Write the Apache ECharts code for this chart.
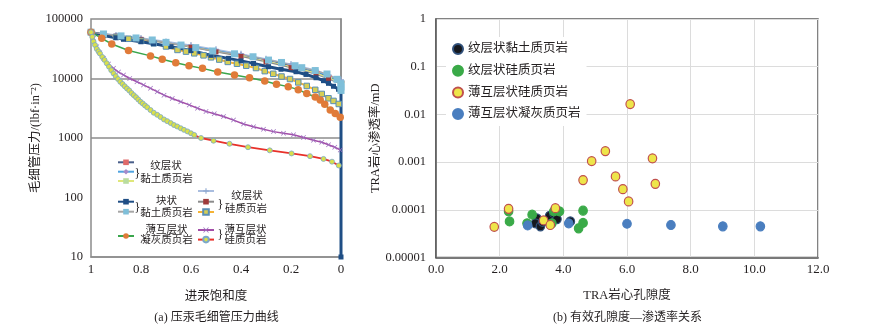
<!DOCTYPE html>
<html><head><meta charset="utf-8">
<script src="https://cdn.jsdelivr.net/npm/echarts@6/dist/echarts.min.js"></script>
<style>html,body{margin:0;padding:0;background:#fff}#c{width:890px;height:336px}</style>
</head><body><div id="c"></div>
<script>
// ---------- Panel (a): mercury injection capillary pressure curves [saturation, pressure] ----------
const wcClay1 = [[1,60000],[0.9,52500],[0.8,46500],[0.7,40500],[0.6,35000],[0.5,29500],[0.4,25000],[0.3,20500],[0.2,16500],[0.1,12800],[0.05,10800],[0,8800]];
const wcClay2 = [[1,60000],[0.9,53000],[0.8,47000],[0.7,41000],[0.6,35500],[0.5,30000],[0.4,25500],[0.3,21000],[0.2,17000],[0.1,13200],[0.05,11000],[0,9000]];
const wcClay3 = [[1,60000],[0.9,52000],[0.8,46000],[0.7,40000],[0.6,34000],[0.5,28500],[0.4,24000],[0.3,19500],[0.2,15800],[0.1,12300],[0.05,10300],[0,8500]];
const blkClay1 = [[1,60000],[0.95,53000],[0.9,48500],[0.87,45600],[0.8,41500],[0.75,38500],[0.68,34300],[0.6,29500],[0.52,24500],[0.45,21800],[0.4,19800],[0.35,17900],[0.29,15800],[0.24,14300],[0.18,13000],[0.14,11700],[0.1,10300],[0.07,9200],[0.05,8300],[0.03,7400],[0.01,6600],[0,6400],[0,10]];
const blkClay2 = [[1,60000],[0.95,56000],[0.88,52000],[0.82,48000],[0.755,44400],[0.7,40500],[0.64,36500],[0.581,33000],[0.513,29000],[0.426,26000],[0.352,23200],[0.29,20400],[0.238,18600],[0.184,16400],[0.157,15200],[0.103,13600],[0.056,11900],[0.016,9700],[0,8200],[0,7200],[0,6300]];
const wcSil1 = [[1,60000],[0.9,54000],[0.8,48000],[0.7,42000],[0.6,36500],[0.5,31000],[0.4,26000],[0.3,21500],[0.2,17500],[0.1,13800],[0.05,11500],[0,9500]];
const wcSil2 = [[1,60000],[0.9,51500],[0.8,45500],[0.7,39500],[0.6,33500],[0.5,28000],[0.4,23500],[0.3,19000],[0.2,15200],[0.1,11800],[0.05,9800],[0,8000]];
const wcSil3 = [[1,60000],[0.95,54000],[0.9,50000],[0.85,46500],[0.8,43000],[0.749,39000],[0.7,34500],[0.654,30200],[0.62,28300],[0.587,26500],[0.55,24500],[0.52,22700],[0.487,20800],[0.453,19000],[0.416,17700],[0.379,16400],[0.34,15000],[0.305,13300],[0.271,12000],[0.238,10800],[0.204,9800],[0.171,8600],[0.137,7500],[0.103,6450],[0.077,5500],[0.05,4650],[0.03,4200],[0.009,3730]];
const ilTuff = [[1,60000],[0.957,47400],[0.917,38000],[0.85,29500],[0.762,24000],[0.715,21000],[0.661,18400],[0.608,16400],[0.554,14800],[0.493,12900],[0.426,11500],[0.366,10300],[0.305,9100],[0.258,8000],[0.211,7300],[0.171,6500],[0.137,5600],[0.103,4900],[0.083,4350],[0.065,3700],[0.043,2950],[0.023,2580],[0.003,2230]];
const ilSil1 = [[1,60000],[0.99,47300],[0.977,34300],[0.965,27000],[0.95,21900],[0.93,17500],[0.91,14800],[0.89,12800],[0.87,11500],[0.845,10000],[0.816,8830],[0.79,7800],[0.762,6840],[0.735,6000],[0.708,5250],[0.675,4600],[0.641,4070],[0.607,3600],[0.574,3160],[0.54,2800],[0.507,2550],[0.47,2300],[0.43,2000],[0.39,1720],[0.35,1540],[0.31,1400],[0.27,1280],[0.23,1200],[0.19,1130],[0.15,1020],[0.11,920],[0.077,850],[0.05,770],[0.025,700],[0.003,630]];
const ilSil2 = [[1,60000],[0.995,50000],[0.99,42000],[0.984,36500],[0.977,31500],[0.97,28500],[0.964,26300],[0.955,23000],[0.946,20500],[0.937,18000],[0.928,15800],[0.919,13800],[0.91,12200],[0.901,10900],[0.892,9800],[0.883,8800],[0.874,8100],[0.865,7400],[0.856,6800],[0.847,6300],[0.838,5700],[0.829,5250],[0.82,4850],[0.811,4450],[0.802,4070],[0.793,3800],[0.784,3520],[0.775,3280],[0.762,2950],[0.749,2660],[0.735,2450],[0.722,2250],[0.708,2050],[0.695,1920],[0.681,1780],[0.668,1650],[0.655,1560],[0.641,1460],[0.628,1370],[0.614,1290],[0.6,1200],[0.587,1125],[0.56,1000],[0.51,900],[0.446,800],[0.372,700],[0.285,620],[0.198,550],[0.124,495],[0.07,445],[0.036,400],[0.009,345]];

const satTicks = {1:'1', 0.8:'0.8', 0.6:'0.6', 0.4:'0.4', 0.2:'0.2', 0:'0'};

// ---------- Panel (b): porosity (%) vs permeability (mD) ----------
const ptWcClay = [[3.17,6.6e-5],[3.12,5.2e-5],[3.28,4.5e-5],[3.35,5.6e-5],[3.57,7.5e-5],[3.70,8.5e-5],[3.80,6.4e-5],[4.22,5.7e-5]];
const ptWcSil = [[2.28,9.3e-5],[2.31,5.7e-5],[2.86,5.2e-5],[3.02,7.9e-5],[3.64,5.2e-5],[3.70,9.3e-5],[3.88,9.3e-5],[4.62,9.6e-5],[4.62,5.3e-5],[4.48,4.1e-5]];
const ptIlSil = [[1.83,4.4e-5],[2.28,1.05e-4],[3.38,6.0e-5],[3.59,4.8e-5],[3.75,1.08e-4],[4.62,4.2e-4],[4.89,1.05e-3],[5.32,1.7e-3],[5.64,5.0e-4],[5.87,2.7e-4],[6.05,1.5e-4],[6.10,1.65e-2],[6.80,1.2e-3],[6.89,3.5e-4]];
const ptIlTuff = [[2.88,4.7e-5],[4.17,5.2e-5],[6.00,5.1e-5],[7.38,4.8e-5],[9.01,4.5e-5],[10.19,4.5e-5]];
const permTicks = ['1','0.1','0.01','0.001','0.0001','0.00001'];

const SERIF = '"Liberation Serif","Times New Roman","Noto Sans CJK SC",serif';
const TXT = '#231f20';
const XSYM = 'path://M0,1 L1,0 L5,4 L9,0 L10,1 L6,5 L10,9 L9,10 L5,6 L1,10 L0,9 L4,5 Z';
const PSYM = 'path://M4,0 H6 V4 H10 V6 H6 V10 H4 V6 H0 V4 H4 Z';

function ln(name, data, color, width, symbol, size, itemStyle) {
  return {
    name, type:'line', xAxisIndex:0, yAxisIndex:0, data,
    lineStyle:{color, width}, symbol, symbolSize:size,
    itemStyle: Object.assign({color}, itemStyle||{}), showSymbol: symbol!=='none',
    animation:false, silent:true, clip:true
  };
}

const series = [
  ln('a纹层状黏土质页岩1', wcClay1, '#4a5f8a', 1.2, 'rect', [7,2], {color:'#e06a6a'}),
  ln('a纹层状黏土质页岩2', wcClay2, '#4fa3e0', 1.2, 'diamond', 5, {color:'#a58bc9'}),
  ln('a纹层状黏土质页岩3', wcClay3, '#dfe77a', 1.2, 'rect', [7,2], {color:'#b9dca0'}),
  ln('a纹层状硅质页岩1', wcSil1, '#a9bddf', 1.2, PSYM, 6, {color:'#8fa8d0'}),
  ln('a纹层状硅质页岩2', wcSil2, '#8c8c8c', 1.2, 'rect', 5, {color:'#9e3a3a'}),
  ln('a纹层状硅质页岩3', wcSil3, '#f5b335', 2, 'rect', 5.5, {color:'#d6cf55', borderColor:'#5a8fb5', borderWidth:1}),
  ln('a块状黏土质页岩1', blkClay1, '#1f4e85', 3, 'rect', 5, {color:'#1f4e85'}),
  ln('a块状黏土质页岩2', blkClay2, '#a6a6a6', 1.2, 'rect', 7, {color:'#7fbfd9'}),
  ln('a薄互层状凝灰质页岩', ilTuff, '#3aa64c', 1.5, 'circle', 7.5, {color:'#e07b39'}),
  ln('a薄互层状硅质页岩1', ilSil1, '#a34ea8', 1.5, XSYM, 5, {color:'#9b6fc0'}),
  ln('a薄互层状硅质页岩2', ilSil2, '#e8312a', 1.8, 'circle', 5, {color:'#d9e04a', borderColor:'#7ba8c9', borderWidth:0.8})
];

function sc(name, data, color, border) {
  return {name, type:'scatter', xAxisIndex:1, yAxisIndex:1, data, symbol:'circle', symbolSize:[8.5,9],
    itemStyle:{color, borderColor:border, borderWidth:1.2, opacity:1}, animation:false};
}
series.push(
  sc('纹层状黏土质页岩', ptWcClay, '#15181e', '#30507a'),
  sc('纹层状硅质页岩', ptWcSil, '#3aaa48', '#3aaa48'),
  sc('薄互层状硅质页岩', ptIlSil, '#eee54a', '#c0504d'),
  sc('薄互层状凝灰质页岩', ptIlTuff, '#4a7ebf', '#4a7ebf')
);

// left legend items (icons only), group labels drawn as text
function lg(name, left, cy) {
  return {data:[name], left, top:cy-3.5, padding:0, itemWidth:16, itemHeight:7, formatter:()=>'', textStyle:{fontSize:1}, selectedMode:false};
}
const legends = [
  lg('a纹层状黏土质页岩1',117,162.3), lg('a纹层状黏土质页岩2',117,171.7), lg('a纹层状黏土质页岩3',117,181),
  lg('a块状黏土质页岩1',117,201.7), lg('a块状黏土质页岩2',117,211.7),
  lg('a薄互层状凝灰质页岩',117,236),
  lg('a纹层状硅质页岩1',197,191), lg('a纹层状硅质页岩2',197,201.7), lg('a纹层状硅质页岩3',197,211.7),
  lg('a薄互层状硅质页岩1',197,230), lg('a薄互层状硅质页岩2',197,239.3),
  {data:['纹层状黏土质页岩','纹层状硅质页岩','薄互层状硅质页岩','薄互层状凝灰质页岩'], orient:'vertical',
   left:446, top:37, padding:[5,6,5,6], itemGap:7.7, itemWidth:10, itemHeight:10, icon:'circle',
   backgroundColor:'#fff', selectedMode:false,
   textStyle:{fontSize:12.5, lineHeight:14, color:TXT, fontFamily:SERIF}}
];

function t(text, x, y, size, extra) {
  return Object.assign({type:'text', x, y, silent:true, z:100,
    style:{text, fill:TXT, font:(size||10.5)+'px '+SERIF, align:'center', verticalAlign:'middle'}}, extra||{});
}
const graphics = [
  t('纹层状',166,166.7), t('黏土质页岩',166.5,179.3), t('}',137.5,174,12),
  t('块状',166.5,201.7), t('黏土质页岩',166.5,213.3), t('}',137.5,207.5,12),
  t('薄互层状',166.5,230), t('凝灰质页岩',166.5,240.7),
  t('纹层状',247,196.7), t('硅质页岩',246,209.3), t('}',220.5,205,12),
  t('薄互层状',245.5,230), t('硅质页岩',245.5,240.7), t('}',220.5,235,12),
  t('(a) 压汞毛细管压力曲线',216.5,318.3,12),
  t('(b) 有效孔隙度—渗透率关系',627.5,318.3,12)
];

const chart = echarts.init(document.getElementById('c'), null, {renderer:'canvas'});
chart.setOption({
  animation:false,
  backgroundColor:'#fff',
  grid:[
    {left:91, top:19, width:250, height:238, show:true, borderColor:'#8c8c8c', borderWidth:1.5},
    {left:436, top:19, width:382, height:238.5, show:true, borderColor:'#595959', borderWidth:1.5}
  ],
  xAxis:[
    {gridIndex:0, type:'value', min:0, max:1, interval:0.2, inverse:true,
     axisLine:{lineStyle:{color:'#8c8c8c', width:1.5}}, axisTick:{show:false}, splitLine:{show:false},
     axisLabel:{formatter:v=>satTicks[Math.round(v*10)/10], color:TXT, fontFamily:SERIF, fontSize:13, margin:6},
     name:'进汞饱和度', nameLocation:'middle', nameGap:33, nameTextStyle:{fontSize:12.5, color:TXT, fontFamily:SERIF}},
    {gridIndex:1, type:'value', min:0, max:12, interval:2,
     axisLine:{lineStyle:{color:'#595959', width:1.5}}, axisTick:{show:false},
     splitLine:{show:true, lineStyle:{color:'#dcdcdc', width:1}},
     axisLabel:{formatter:v=>v.toFixed(1), color:TXT, fontFamily:SERIF, fontSize:13, margin:6},
     name:'TRA岩心孔隙度', nameLocation:'middle', nameGap:32, nameTextStyle:{fontSize:12.5, color:TXT, fontFamily:SERIF}}
  ],
  yAxis:[
    {gridIndex:0, type:'log', logBase:10, min:10, max:100000,
     axisLine:{show:true, lineStyle:{color:'#8c8c8c', width:1.5}}, axisTick:{show:false},
     splitLine:{show:true, lineStyle:{color:['rgba(0,0,0,0)','rgba(0,0,0,0)','#8c8c8c','#8c8c8c','rgba(0,0,0,0)'], width:1.5}},
     axisLabel:{formatter:v=>String(Math.round(v)), color:TXT, fontFamily:SERIF, fontSize:12.5, margin:8},
     name:'毛细管压力/(lbf·in⁻²)', nameLocation:'middle', nameGap:47, nameTextStyle:{fontSize:12.5, color:TXT, fontFamily:SERIF}},
    {gridIndex:1, type:'log', logBase:10, min:0.00001, max:1,
     axisLine:{show:true, lineStyle:{color:'#595959', width:1.5}}, axisTick:{show:false},
     splitLine:{show:true, lineStyle:{color:'#dcdcdc', width:1}},
     axisLabel:{formatter:v=>permTicks[Math.round(-Math.log10(v))], color:TXT, fontFamily:SERIF, fontSize:12.5, margin:10},
     name:'TRA岩心渗透率/mD', nameLocation:'middle', nameGap:52, nameTextStyle:{fontSize:12.5, color:TXT, fontFamily:SERIF}}
  ],
  legend: legends,
  graphic: graphics,
  series
});
</script>
</body></html>
